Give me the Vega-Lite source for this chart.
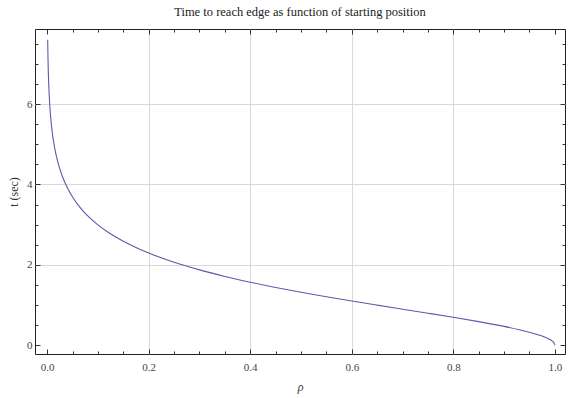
{
  "$schema": "https://vega.github.io/schema/vega-lite/v6.json",
  "width": 530,
  "height": 325,
  "autosize": {"type": "none"},
  "padding": {"left": 35, "top": 29, "right": 10, "bottom": 44},
  "background": "white",
  "title": {"text": "Time to reach edge as function of starting position", "font": "Liberation Serif", "fontSize": 12.5, "fontWeight": "normal", "color": "#222", "offset": 10},
  "data": {"values": [
    {"rho": 0.001, "t": 7.601},
    {"rho": 0.0015, "t": 7.1955},
    {"rho": 0.002, "t": 6.9078},
    {"rho": 0.0025, "t": 6.6846},
    {"rho": 0.003, "t": 6.5022},
    {"rho": 0.004, "t": 6.2146},
    {"rho": 0.005, "t": 5.9915},
    {"rho": 0.007, "t": 5.655},
    {"rho": 0.01, "t": 5.2983},
    {"rho": 0.012, "t": 5.1159},
    {"rho": 0.015, "t": 4.8928},
    {"rho": 0.02, "t": 4.6051},
    {"rho": 0.025, "t": 4.3819},
    {"rho": 0.03, "t": 4.1995},
    {"rho": 0.04, "t": 3.9116},
    {"rho": 0.05, "t": 3.6883},
    {"rho": 0.06, "t": 3.5057},
    {"rho": 0.07, "t": 3.3512},
    {"rho": 0.08, "t": 3.2173},
    {"rho": 0.09, "t": 3.0991},
    {"rho": 0.1, "t": 2.9932},
    {"rho": 0.12, "t": 2.8098},
    {"rho": 0.15, "t": 2.5846},
    {"rho": 0.18, "t": 2.3997},
    {"rho": 0.2, "t": 2.2924},
    {"rho": 0.25, "t": 2.0634},
    {"rho": 0.3, "t": 1.8738},
    {"rho": 0.35, "t": 1.7108},
    {"rho": 0.4, "t": 1.5668},
    {"rho": 0.45, "t": 1.4367},
    {"rho": 0.5, "t": 1.317},
    {"rho": 0.55, "t": 1.205},
    {"rho": 0.6, "t": 1.0986},
    {"rho": 0.65, "t": 0.9961},
    {"rho": 0.7, "t": 0.8956},
    {"rho": 0.75, "t": 0.7954},
    {"rho": 0.8, "t": 0.6931},
    {"rho": 0.85, "t": 0.5857},
    {"rho": 0.9, "t": 0.4671},
    {"rho": 0.93, "t": 0.3856},
    {"rho": 0.95, "t": 0.323},
    {"rho": 0.97, "t": 0.2481},
    {"rho": 0.98, "t": 0.2017},
    {"rho": 0.99, "t": 0.142},
    {"rho": 0.995, "t": 0.1002},
    {"rho": 0.999, "t": 0.0447},
    {"rho": 1.0, "t": 0}
  ]},
  "config": {
    "view": {"stroke": "#222", "strokeWidth": 1},
    "axis": {"domain": false, "grid": false, "labelFont": "Liberation Serif", "labelFontSize": 11, "labelColor": "#444", "tickColor": "#333", "tickWidth": 1, "titleFont": "Liberation Serif", "titleFontWeight": "normal", "titleFontSize": 12, "titleColor": "#333", "gridColor": "#d9d9d9", "gridWidth": 1, "labelFlush": false, "labelOverlap": false}
  },
  "resolve": {"axis": {"x": "independent", "y": "independent"}},
  "layer": [
    {
      "mark": {"type": "point", "opacity": 0},
      "encoding": {
        "x": {"field": "rho", "type": "quantitative", "scale": {"domain": [-0.024, 1.02], "nice": false, "zero": false}, "axis": {"orient": "bottom", "values": [0.2, 0.4, 0.6, 0.8], "grid": true, "ticks": false, "labels": false, "title": null}},
        "y": {"field": "t", "type": "quantitative", "scale": {"domain": [-0.22, 7.87], "nice": false, "zero": false}, "axis": {"orient": "left", "values": [2, 4, 6], "grid": true, "ticks": false, "labels": false, "title": null}}
      }
    },
    {
      "mark": {"type": "line", "color": "#5a5aac", "strokeWidth": 1.1, "interpolate": "monotone"},
      "encoding": {
        "x": {"field": "rho", "type": "quantitative", "scale": {"domain": [-0.024, 1.02], "nice": false, "zero": false}, "axis": {"orient": "bottom", "values": [0, 0.2, 0.4, 0.6, 0.8, 1.0], "format": ".1f", "tickSize": -5, "labelPadding": 12, "title": "ρ", "titleFontStyle": "italic", "titlePadding": 9}},
        "y": {"field": "t", "type": "quantitative", "scale": {"domain": [-0.22, 7.87], "nice": false, "zero": false}, "axis": {"orient": "left", "values": [0, 2, 4, 6], "format": "d", "tickSize": -5, "labelPadding": 8, "title": "t (sec)", "titlePadding": 6}}
      }
    },
    {
      "mark": {"type": "point", "opacity": 0},
      "encoding": {
        "x": {"field": "rho", "type": "quantitative", "scale": {"domain": [-0.024, 1.02], "nice": false, "zero": false}, "axis": {"orient": "bottom", "values": [0.05, 0.1, 0.15, 0.25, 0.3, 0.35, 0.45, 0.5, 0.55, 0.65, 0.7, 0.75, 0.85, 0.9, 0.95], "tickSize": -3, "labels": false, "title": null}},
        "y": {"field": "t", "type": "quantitative", "scale": {"domain": [-0.22, 7.87], "nice": false, "zero": false}, "axis": {"orient": "left", "values": [0.5, 1, 1.5, 2.5, 3, 3.5, 4.5, 5, 5.5, 6.5, 7, 7.5], "tickSize": -3, "labels": false, "title": null}}
      }
    },
    {
      "mark": {"type": "point", "opacity": 0},
      "encoding": {
        "x": {"field": "rho", "type": "quantitative", "scale": {"domain": [-0.024, 1.02], "nice": false, "zero": false}, "axis": {"orient": "top", "values": [0, 0.2, 0.4, 0.6, 0.8, 1.0], "tickSize": -5, "labels": false, "title": null}},
        "y": {"field": "t", "type": "quantitative", "scale": {"domain": [-0.22, 7.87], "nice": false, "zero": false}, "axis": {"orient": "right", "values": [0, 2, 4, 6], "tickSize": -5, "labels": false, "title": null}}
      }
    },
    {
      "mark": {"type": "point", "opacity": 0},
      "encoding": {
        "x": {"field": "rho", "type": "quantitative", "scale": {"domain": [-0.024, 1.02], "nice": false, "zero": false}, "axis": {"orient": "top", "values": [0.05, 0.1, 0.15, 0.25, 0.3, 0.35, 0.45, 0.5, 0.55, 0.65, 0.7, 0.75, 0.85, 0.9, 0.95], "tickSize": -3, "labels": false, "title": null}},
        "y": {"field": "t", "type": "quantitative", "scale": {"domain": [-0.22, 7.87], "nice": false, "zero": false}, "axis": {"orient": "right", "values": [0.5, 1, 1.5, 2.5, 3, 3.5, 4.5, 5, 5.5, 6.5, 7, 7.5], "tickSize": -3, "labels": false, "title": null}}
      }
    }
  ]
}
